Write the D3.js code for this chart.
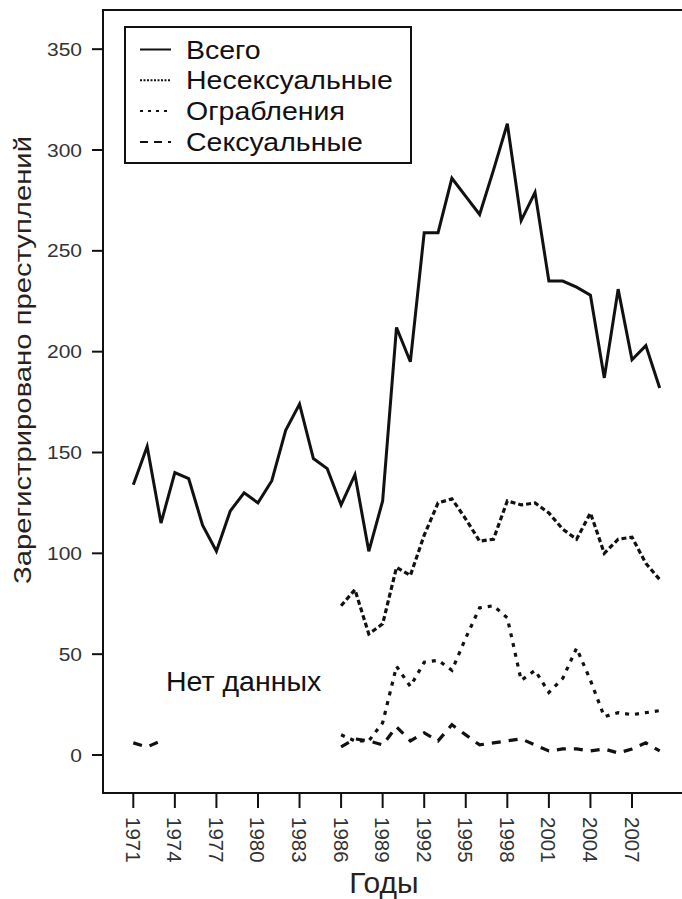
<!DOCTYPE html>
<html>
<head>
<meta charset="utf-8">
<style>
	body { margin: 0; background: #fff; }
	.vis-crime text { font-family: "Liberation Sans", Arial, sans-serif; }
	.line-total { stroke: #111; stroke-width: 3; fill: none; stroke-linejoin: miter; }
	.line-nonsex { stroke: #111; stroke-width: 3.2; fill: none; stroke-dasharray: 5 3; }
	.line-robbery { stroke: #111; stroke-width: 3.2; fill: none; stroke-dasharray: 4 6; }
	.line-sex { stroke: #111; stroke-width: 3.2; fill: none; stroke-dasharray: 9 8; }
	.frame { stroke: #111; stroke-width: 2; fill: none; }
	.tick-label { fill: #333; }
</style>
</head>
<body>
<div class="vis-crime"></div>

<script src="https://d3js.org/d3.v7.min.js"></script>
<script>

	// Data //
	// ---- //
	let years = [1971, 1972, 1973, 1974, 1975, 1976, 1977, 1978, 1979, 1980,
		1981, 1982, 1983, 1984, 1985, 1986, 1987, 1988, 1989, 1990,
		1991, 1992, 1993, 1994, 1995, 1996, 1997, 1998, 1999, 2000,
		2001, 2002, 2003, 2004, 2005, 2006, 2007, 2008, 2009];

	let total = [134, 153, 115, 140, 137, 114, 101, 121, 130, 125,
		136, 161, 174, 147, 142, 124, 139, 101, 126, 212,
		195, 259, 259, 286, 277, 268, 290, 313, 265, 279,
		235, 235, 232, 228, 187, 231, 196, 203, 182];

	let nonSexual = [null, null, null, null, null, null, null, null, null, null,
		null, null, null, null, null, 74, 82, 60, 65, 93,
		89, 109, 125, 127, 117, 106, 107, 126, 124, 125,
		120, 112, 107, 120, 100, 107, 108, 95, 87];

	let robbery = [null, null, null, null, null, null, null, null, null, null,
		null, null, null, null, null, 10, 7, 7, 16, 44,
		34, 46, 47, 42, 58, 73, 74, 68, 37, 42,
		31, 38, 53, 37, 19, 21, 20, 21, 22];

	let sexual = [6, 4, 7, null, null, null, null, null, null, null,
		null, null, null, null, null, 4, 8, 7, 5, 14,
		7, 11, 7, 15, 10, 5, 6, 7, 8, 5,
		2, 3, 3, 2, 3, 1, 3, 6, 2];

	let xTicks = [1971, 1974, 1977, 1980, 1983, 1986, 1989, 1992, 1995, 1998, 2001, 2004, 2007];
	let yTicks = [0, 50, 100, 150, 200, 250, 300, 350];

	let legendLabels = ["Всего", "Несексуальные", "Ограбления", "Сексуальные"];
	let legendClasses = ["line-total", "line-nonsex", "line-robbery", "line-sex"];
	let legendDash = [null, "2 1.5", "3 5", "8 6"];

	// Setup //
	// ----- //
	let W = 682, H = 899;
	let plot = {left: 103, top: 10, right: 690, bottom: 793};

	let x = d3.scaleLinear().domain([1971, 2007]).range([133.3, 632]);
	let y = d3.scaleLinear().domain([0, 300]).range([755, 150]);

	let svg = d3.select(".vis-crime")
		.append("svg")
			.attr("width", W)
			.attr("height", H);

	function zip(a, b) {
		return a.map((e, i) => [e, b[i]]);
	}

	let valueline = d3.line()
		.defined(d => d[1] !== null)
		.x(d => x(d[0]))
		.y(d => y(d[1]));

	// LINES
	svg.append("path").datum(zip(years, total)).attr("class", "line-total").attr("d", valueline);
	svg.append("path").datum(zip(years, nonSexual)).attr("class", "line-nonsex").attr("d", valueline);
	svg.append("path").datum(zip(years, robbery)).attr("class", "line-robbery").attr("d", valueline);
	svg.append("path").datum(zip(years, sexual)).attr("class", "line-sex").attr("d", valueline);

	// FRAME
	svg.append("rect")
		.attr("class", "frame")
		.attr("x", plot.left)
		.attr("y", plot.top)
		.attr("width", plot.right - plot.left)
		.attr("height", plot.bottom - plot.top);

	// Y-AXIS
	let yAxis = svg.append("g");
	yAxis.selectAll("line")
		.data(yTicks).enter().append("line")
		.attr("x1", plot.left - 11)
		.attr("x2", plot.left)
		.attr("y1", d => y(d))
		.attr("y2", d => y(d))
		.style("stroke", "#111")
		.style("stroke-width", 2);
	yAxis.selectAll("text")
		.data(yTicks).enter().append("text")
		.attr("class", "tick-label")
		.attr("transform", d => "translate(82," + (y(d) + 6.5) + ") scale(1.2,1)")
		.style("text-anchor", "end")
		.style("font-size", "17.5px")
		.text(d => d);

	// X-AXIS
	let xAxis = svg.append("g");
	xAxis.selectAll("line")
		.data(xTicks).enter().append("line")
		.attr("x1", d => x(d))
		.attr("x2", d => x(d))
		.attr("y1", plot.bottom)
		.attr("y2", plot.bottom + 15)
		.style("stroke", "#111")
		.style("stroke-width", 2);
	xAxis.selectAll("text")
		.data(xTicks).enter().append("text")
		.attr("class", "tick-label")
		.attr("transform", d => "translate(" + (x(d) - 7.5) + "," + (plot.bottom + 24) + ") rotate(90)")
		.style("text-anchor", "start")
		.style("font-size", "20.5px")
		.text(d => d);

	// AXIS LABELS
	svg.append("text")
		.attr("transform", "translate(31,360) rotate(-90)")
		.attr("textLength", 448)
		.attr("lengthAdjust", "spacingAndGlyphs")
		.style("text-anchor", "middle")
		.style("font-size", "24px")
		.style("fill", "#2a1f1a")
		.text("Зарегистрировано преступлений");

	svg.append("text")
		.attr("x", 384)
		.attr("y", 893)
		.style("text-anchor", "middle")
		.style("font-size", "30px")
		.style("fill", "#2a1f1a")
		.text("Годы");

	// NO DATA NOTE
	svg.append("text")
		.attr("x", 166)
		.attr("y", 691)
		.style("font-size", "28.5px")
		.style("fill", "#111")
		.text("Нет данных");

	// LEGEND
	let legend = svg.append("g");
	legend.append("rect")
		.attr("x", 125)
		.attr("y", 27)
		.attr("width", 286)
		.attr("height", 136)
		.style("fill", "#fff")
		.style("stroke", "#111")
		.style("stroke-width", 2);

	legendLabels.forEach((label, i) => {
		let ly = 49.5 + i * 30.8;
		legend.append("line")
			.attr("class", legendClasses[i])
			.attr("x1", 140)
			.attr("x2", 171)
			.attr("y1", ly)
			.attr("y2", ly)
			.style("stroke-width", 2)
			.style("stroke-dasharray", legendDash[i]);
		legend.append("text")
			.attr("transform", "translate(186," + (ly + 9) + ") scale(1.14,1)")
			.style("font-size", "25px")
			.style("fill", "#111")
			.text(label);
	});

</script>
</body>
</html>
